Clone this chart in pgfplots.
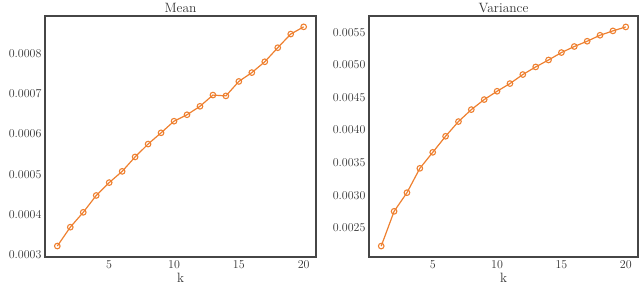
\documentclass[border=0pt]{standalone}
\usepackage{pgfplots}
\pgfplotsset{compat=1.18}
\definecolor{lc}{RGB}{238,128,48}
\definecolor{fr}{RGB}{70,70,70}
\pgfplotsset{
  myax/.style={
    scale only axis,
    height=241pt,
    xmin=0.05, xmax=20.95,
    xtick={5,10,15,20},
    major tick length=0pt,
    axis line style={fr, line width=1.1pt},
    tick label style={font=\fontsize{12.5}{14}\selectfont, text=black!80},
    label style={font=\fontsize{13.5}{15}\selectfont, text=black!80},
    title style={font=\fontsize{13.5}{15}\selectfont, text=black!80, yshift=-6pt},
    xlabel={k},
    xlabel style={yshift=2pt},
    scaled y ticks=false,
    yticklabel style={/pgf/number format/fixed, /pgf/number format/precision=4, /pgf/number format/fixed zerofill},
  },
  myplot/.style={lc, line width=1.2pt, mark=o, mark size=2.8pt, mark options={fill=white, line width=1.1pt}},
}
\begin{document}
\begin{tikzpicture}
\useasboundingbox (0,0) rectangle (640pt,294pt);
\begin{axis}[myax, at={(45pt,37pt)}, anchor=south west, width=271pt,
  ymin=0.0002937, ymax=0.000894, ytick={0.0003,0.0004,0.0005,0.0006,0.0007,0.0008},
  title={Mean}]
\addplot[myplot] coordinates {
(1,0.000321) (2,0.000368) (3,0.000405) (4,0.000447) (5,0.000479)
(6,0.000507) (7,0.000543) (8,0.000575) (9,0.000603) (10,0.000632)
(11,0.000648) (12,0.000669) (13,0.000697) (14,0.000695) (15,0.000731)
(16,0.000753) (17,0.000780) (18,0.000815) (19,0.000849) (20,0.000867)};
\end{axis}
\begin{axis}[myax, at={(369pt,37pt)}, anchor=south west, width=269pt,
  ymin=0.002049, ymax=0.005754, ytick={0.0025,0.0030,0.0035,0.0040,0.0045,0.0050,0.0055},
  title={Variance}]
\addplot[myplot] coordinates {
(1,0.002217) (2,0.002751) (3,0.003038) (4,0.003412) (5,0.003658)
(6,0.003905) (7,0.004131) (8,0.004315) (9,0.004469) (10,0.004597)
(11,0.004715) (12,0.004854) (13,0.004971) (14,0.005078) (15,0.005192)
(16,0.005285) (17,0.005366) (18,0.005458) (19,0.005525) (20,0.005586)};
\end{axis}
\end{tikzpicture}
\end{document}
